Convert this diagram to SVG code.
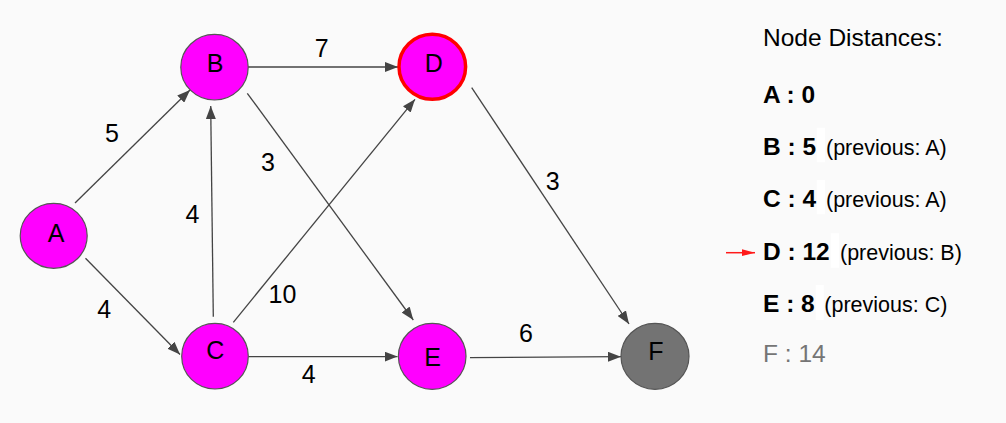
<svg xmlns="http://www.w3.org/2000/svg" width="1006" height="423" viewBox="0 0 1006 423">
<defs>
<marker id="arr" markerUnits="userSpaceOnUse" markerWidth="13" markerHeight="10" refX="13" refY="5" orient="auto">
<path d="M0,0 L13,5 L0,10 z" fill="#444"/>
</marker>
<marker id="red" markerUnits="userSpaceOnUse" markerWidth="13" markerHeight="8" refX="13" refY="4" orient="auto">
<path d="M0,0.6 L13,4 L0,7.4 z" fill="#ff1a1a"/>
</marker>
</defs>
<style>
.edge{stroke:#444;stroke-width:1.3;fill:none;marker-end:url(#arr)}
.node{fill:#ff00ff;stroke:#555;stroke-width:1.2}
.nl{font-family:"Liberation Sans",Arial,sans-serif;font-size:25px;fill:#000;text-anchor:middle}
.el{font-family:"Liberation Sans",Arial,sans-serif;font-size:25px;fill:#000;text-anchor:middle}
.t{font-family:"Liberation Sans",Arial,sans-serif;font-size:24.5px;fill:#000}
.b{font-weight:bold}
.p{font-size:21.5px;font-weight:normal}
.gap{fill:#ffffff}
</style>
<rect width="1006" height="423" fill="#fafafa"/>
<g id="connectors">
<line class="edge" x1="75" y1="203" x2="190" y2="90"/>
<line class="edge" x1="85.5" y1="258.3" x2="180" y2="354.5"/>
<line class="edge" x1="248" y1="67" x2="398" y2="67"/>
<line class="edge" x1="247.3" y1="93.3" x2="413.3" y2="320"/>
<line class="edge" x1="213.3" y1="316.7" x2="210.7" y2="106"/>
<line class="edge" x1="233.3" y1="322.3" x2="415" y2="99.3"/>
<line class="edge" x1="248.3" y1="356.6" x2="397.5" y2="356.6"/>
<line class="edge" x1="471.7" y1="87.7" x2="629" y2="324"/>
<line class="edge" x1="470" y1="357.7" x2="621" y2="356.7"/>
<text class="el" x="112" y="142.3">5</text>
<text class="el" x="104.3" y="318.3">4</text>
<text class="el" x="321.7" y="56.7">7</text>
<text class="el" x="268" y="170.7">3</text>
<text class="el" x="192.5" y="222.7">4</text>
<text class="el" x="282.5" y="302.7">10</text>
<text class="el" x="308.7" y="383.3">4</text>
<text class="el" x="552.7" y="190">3</text>
<text class="el" x="526" y="341.7">6</text>
</g>
<g id="node-A"><ellipse class="node" cx="53.7" cy="235.8" rx="33.5" ry="32.5"/><text class="nl" x="56" y="241.7">A</text></g>
<g id="node-B"><ellipse class="node" cx="214.5" cy="67.2" rx="33.7" ry="32.8"/><text class="nl" x="215" y="72.3">B</text></g>
<g id="node-C"><ellipse class="node" cx="215" cy="356.2" rx="33.3" ry="32.8"/><text class="nl" x="215.3" y="359.3">C</text></g>
<g id="node-D"><ellipse class="node" cx="432.3" cy="66.8" rx="33.3" ry="32.5" style="stroke:#ff0000;stroke-width:3.5"/><text class="nl" x="433.7" y="72.3">D</text></g>
<g id="node-E"><ellipse class="node" cx="432.2" cy="356.3" rx="33.8" ry="33"/><text class="nl" x="432.5" y="366">E</text></g>
<g id="node-F"><ellipse class="node" cx="655" cy="356.3" rx="34" ry="33" style="fill:#737373"/><text class="nl" x="656" y="360">F</text></g>
<g id="distances">
<text class="t" x="763" y="46">Node Distances:</text>
<text class="t b" x="763" y="102.7">A : 0</text>
<rect class="gap" x="816.7" y="127.7" width="8.3" height="34.5"/>
<text class="t b" x="763" y="155">B : 5 <tspan class="p" x="826">(previous: A)</tspan></text>
<rect class="gap" x="816.7" y="180" width="8.3" height="34.3"/>
<text class="t b" x="763" y="206.7">C : 4 <tspan class="p" x="826">(previous: A)</tspan></text>
<line x1="726" y1="252.7" x2="755" y2="252.7" stroke="#ff1a1a" stroke-width="1.5" marker-end="url(#red)"/>
<rect class="gap" x="830.7" y="233.3" width="8.3" height="34.4"/>
<text class="t b" x="763" y="260">D : 12 <tspan class="p" x="840">(previous: B)</tspan></text>
<rect class="gap" x="815.7" y="285" width="8" height="35"/>
<text class="t b" x="763" y="312.3">E : 8 <tspan class="p" x="824.3">(previous: C)</tspan></text>
<text class="t" x="763" y="361.7" style="fill:#757575">F : 14</text>
</g>
</svg>
